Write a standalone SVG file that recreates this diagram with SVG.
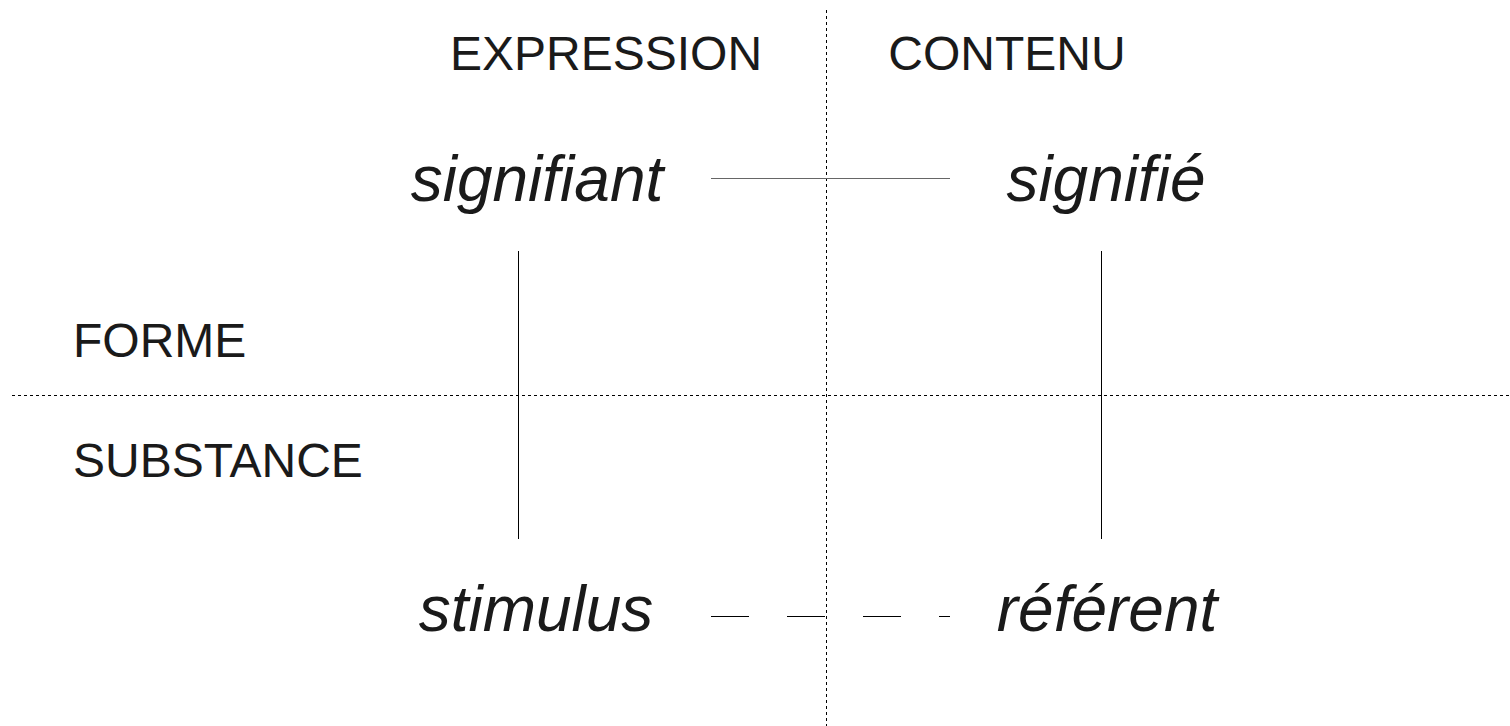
<svg xmlns="http://www.w3.org/2000/svg" width="1510" height="726" viewBox="0 0 1510 726">
  <style>
    .caps { font-family: "Liberation Sans", Arial, sans-serif; font-size: 48px; fill: #1a1a1a; }
    .term { font-family: "Liberation Sans", Arial, sans-serif; font-size: 64px; font-style: italic; fill: #1a1a1a; }
    .axis { stroke: #000; stroke-width: 1; stroke-dasharray: 3 3; fill: none; }
    .link { stroke: #000; stroke-width: 1; fill: none; }
    .soft { stroke: #666; }
  </style>
  <rect width="1510" height="726" fill="#fff"/>

  <!-- axes dividing the plane -->
  <g id="axes">
    <line class="axis" x1="826.5" y1="10" x2="826.5" y2="726"/>
    <line class="axis" x1="12" y1="395.5" x2="1510" y2="395.5"/>
  </g>

  <!-- headings -->
  <g id="headings">
    <text class="caps" x="606" y="70" text-anchor="middle">EXPRESSION</text>
    <text class="caps" x="1007" y="70" text-anchor="middle">CONTENU</text>
    <text class="caps" x="73" y="357">FORME</text>
    <text class="caps" x="73" y="477">SUBSTANCE</text>
  </g>

  <g id="signifiant"><text class="term" x="537" y="201" text-anchor="middle">signifiant</text></g>
  <g id="signifie"><text class="term" x="1106" y="201" text-anchor="middle">signifié</text></g>
  <g id="stimulus"><text class="term" x="536" y="631" text-anchor="middle">stimulus</text></g>
  <g id="referent"><text class="term" x="1107" y="631" text-anchor="middle">référent</text></g>

  <g id="connectors">
    <line class="link soft" x1="711" y1="178.5" x2="950" y2="178.5"/>
    <line class="link" x1="518.5" y1="251" x2="518.5" y2="539"/>
    <line class="link" x1="1101.5" y1="251" x2="1101.5" y2="539"/>
    <line class="link" x1="711" y1="616.5" x2="950" y2="616.5" stroke-dasharray="38 38"/>
  </g>
</svg>
